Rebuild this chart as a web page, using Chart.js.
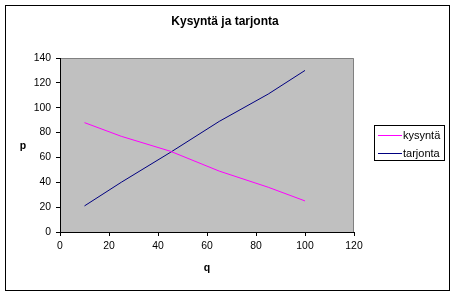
<!DOCTYPE html>
<html>
<head>
<meta charset="utf-8">
<script src="https://cdn.jsdelivr.net/npm/chart.js@4/dist/chart.umd.min.js"></script>
<style>
  html, body { margin: 0; padding: 0; background: #ffffff; }
  canvas { display: block; }
</style>
</head>
<body>
<canvas id="c" width="458" height="298"></canvas>
<script>
const chartTitle = "Kysyntä ja tarjonta";
const xTitle = "q";
const yTitle = "p";
const seriesNames = ["kysyntä", "tarjonta"];
const qValues = [10, 25, 45, 65, 85, 100];
const demandValues = [88, 77, 65, 49, 36, 25];
const supplyValues = [21, 40, 64, 89, 111, 130];
const xTicks = [0, 20, 40, 60, 80, 100, 120];
const yTicks = [0, 20, 40, 60, 80, 100, 120, 140];

const FONT = '"Liberation Sans", Arial, sans-serif';

const decor = {
  id: 'decor',
  beforeDraw(chart) {
    const ctx = chart.ctx;
    const a = chart.chartArea;
    ctx.save();
    ctx.fillStyle = '#ffffff';
    ctx.fillRect(0, 0, chart.width, chart.height);
    ctx.strokeStyle = '#000000';
    ctx.lineWidth = 1;
    ctx.strokeRect(5.5, 5.5, 444, 285);
    ctx.fillStyle = '#C0C0C0';
    ctx.fillRect(a.left, a.top, a.right - a.left, a.bottom - a.top);
    ctx.strokeStyle = '#808080';
    ctx.beginPath();
    ctx.moveTo(a.left, a.top + 0.5);
    ctx.lineTo(a.right - 0.5, a.top + 0.5);
    ctx.lineTo(a.right - 0.5, a.bottom);
    ctx.stroke();
    ctx.restore();
  },
  afterDraw(chart) {
    const ctx = chart.ctx;
    const a = chart.chartArea;
    ctx.save();
    ctx.fillStyle = '#000000';
    ctx.textAlign = 'center';
    ctx.textBaseline = 'middle';
    ctx.font = 'bold 12px ' + FONT;
    ctx.fillText(chartTitle, 225, 22);
    ctx.font = 'bold 10.5px ' + FONT;
    ctx.fillText(xTitle, (a.left + a.right) / 2, 268);
    ctx.fillText(yTitle, 23, 146);
    // legend
    ctx.strokeStyle = '#000000';
    ctx.lineWidth = 1;
    ctx.strokeRect(374.5, 125.5, 70, 35);
    ctx.font = '11px ' + FONT;
    ctx.textAlign = 'left';
    const ys = [135.5, 153.5];
    chart.data.datasets.forEach((ds, i) => {
      ctx.strokeStyle = ds.borderColor;
      ctx.beginPath();
      ctx.moveTo(378, ys[i]);
      ctx.lineTo(402, ys[i]);
      ctx.stroke();
      ctx.fillStyle = '#000000';
      ctx.fillText(ds.label, 403, ys[i]);
    });
    ctx.restore();
  }
};

new Chart(document.getElementById('c'), {
  type: 'scatter',
  data: {
    datasets: [
      {
        label: seriesNames[0],
        data: qValues.map((q, i) => ({ x: q, y: demandValues[i] })),
        borderColor: '#FF00FF',
        backgroundColor: '#FF00FF',
        showLine: true,
        borderWidth: 1,
        pointRadius: 0,
        tension: 0
      },
      {
        label: seriesNames[1],
        data: qValues.map((q, i) => ({ x: q, y: supplyValues[i] })),
        borderColor: '#000080',
        backgroundColor: '#000080',
        showLine: true,
        borderWidth: 1,
        pointRadius: 0,
        tension: 0
      }
    ]
  },
  options: {
    responsive: false,
    devicePixelRatio: 1,
    animation: false,
    events: [],
    layout: { padding: { left: 0, right: 104, top: 58, bottom: 0 } },
    plugins: {
      legend: { display: false },
      title: { display: false },
      tooltip: { enabled: false }
    },
    scales: {
      x: {
        type: 'linear',
        min: 0,
        max: 120,
        afterBuildTicks(scale) { scale.ticks = xTicks.map(v => ({ value: v })); },
        afterFit(scale) { scale.height = 66; },
        grid: { drawOnChartArea: false, drawTicks: true, tickLength: 4, color: '#000000' },
        border: { display: true, color: '#000000', width: 1 },
        ticks: { color: '#000000', font: { family: FONT, size: 10.4 }, padding: 4, maxRotation: 0 }
      },
      y: {
        type: 'linear',
        min: 0,
        max: 140,
        afterBuildTicks(scale) { scale.ticks = yTicks.map(v => ({ value: v })); },
        afterFit(scale) { scale.width = 60; },
        grid: { drawOnChartArea: false, drawTicks: true, tickLength: 4, color: '#000000' },
        border: { display: true, color: '#000000', width: 1 },
        ticks: { color: '#000000', font: { family: FONT, size: 10.4 }, padding: 5 }
      }
    }
  },
  plugins: [decor]
});
</script>
</body>
</html>
